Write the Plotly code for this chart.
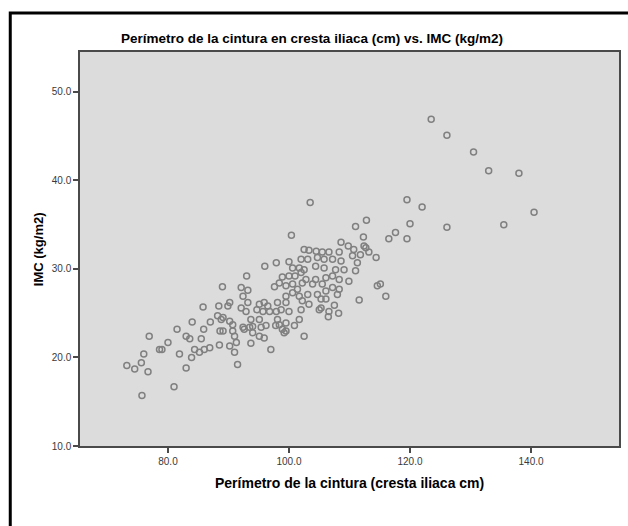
import plotly.graph_objects as go

# Perímetro de la cintura (cm)
waist = [
    123.5, 126.1, 130.5, 133.0, 138.0, 140.5, 135.5, 126.1, 122.0, 119.5, 120.0, 119.5, 117.6, 116.5,
    103.5, 100.4, 112.8, 111.0, 112.3,
    108.6, 112.4, 112.7, 109.8, 110.7, 111.8, 113.2, 114.4,
    102.5, 103.3, 104.5, 105.5, 106.6, 108.3,
    102.0, 103.1, 104.7, 105.8, 107.2, 108.6, 110.5, 111.3,
    100.6, 101.7, 102.5, 104.4, 105.8, 107.7, 109.1, 111.0,
    100.0, 101.0, 102.8, 104.4, 106.1, 107.2, 108.3, 109.9,
    100.6, 102.2, 103.9, 105.5, 107.2, 108.3,
    114.6, 115.1,
    100.6, 101.7, 103.1, 104.7, 106.1, 108.0,
    116.0, 111.6,
    102.2, 103.3, 105.3, 106.1, 107.5,
    102.0, 105.0, 105.3, 106.6, 108.2,
    101.7, 106.5, 100.9,
    96.0, 97.9, 93.0, 89.0, 92.1, 93.2, 92.4, 98.9, 98.4, 97.6, 99.5, 99.5,
    85.8, 88.4, 90.2, 89.9, 92.1, 93.2, 92.9, 95.1, 95.9, 96.5, 94.7, 95.7, 96.8, 98.1, 99.5, 97.9, 98.7,
    84.0, 87.0, 88.2, 88.8, 89.1, 90.2, 90.7, 93.7, 95.1, 94.0, 95.4, 96.2, 98.1, 98.4, 97.8, 99.5, 99.5,
    85.9, 88.6, 89.1, 90.7, 92.4, 92.6, 93.5, 94.0, 95.1, 95.9, 98.9, 99.2,
    83.0, 83.6, 85.5, 91.0, 91.3,
    84.4, 85.2, 86.0, 86.9, 88.5, 90.2, 91.0, 93.7, 97.0,
    83.9, 81.9, 91.5,
    100.0, 102.0, 101.4, 100.0, 102.5,
    81.5, 76.9, 80.0, 78.6, 79.0, 76.0, 75.6, 73.2, 74.5, 76.7, 83.0, 81.0, 75.7,
]

# IMC (kg/m2)
imc = [
    46.9, 45.1, 43.2, 41.1, 40.8, 36.4, 35.0, 34.7, 37.0, 37.8, 35.1, 33.4, 34.1, 33.4,
    37.5, 33.8, 35.5, 34.8, 33.6,
    33.0, 32.6, 32.4, 32.6, 32.2, 31.6, 31.9, 31.3,
    32.2, 32.1, 32.0, 31.9, 31.9, 31.9,
    31.1, 31.1, 31.3, 31.1, 31.1, 30.9, 31.5, 30.7,
    30.1, 30.1, 29.9, 30.3, 30.1, 29.9, 29.9, 29.8,
    29.2, 29.2, 28.8, 28.8, 29.0, 29.2, 28.8, 28.6,
    28.3, 28.4, 28.3, 28.3, 27.9, 27.7,
    28.1, 28.3,
    27.3, 26.9, 27.1, 27.1, 27.5, 27.1,
    26.9, 26.5,
    26.4, 26.0, 26.6, 26.6, 25.9,
    25.4, 25.4, 25.6, 25.2, 25.0,
    24.3, 24.6, 23.6,
    30.3, 30.7, 29.2, 28.0, 27.9, 27.6, 26.9, 29.1, 28.4, 28.0, 28.1, 26.9,
    25.7, 25.8, 26.2, 25.8, 25.6, 26.2, 25.2, 26.0, 26.2, 25.8, 25.4, 25.2, 25.2, 26.2, 26.2, 25.2, 25.4,
    24.0, 24.0, 24.7, 24.3, 24.5, 24.1, 23.7, 24.3, 24.3, 23.5, 23.4, 23.6, 24.3, 23.7, 23.6, 23.9, 23.0,
    23.2, 23.0, 23.0, 23.0, 23.4, 23.2, 23.4, 22.8, 22.4, 22.2, 23.2, 22.8,
    22.4, 22.1, 22.1, 22.4, 21.7,
    20.9, 20.6, 20.9, 21.1, 21.4, 21.3, 20.6, 21.6, 20.9,
    20.0, 20.4, 19.2,
    30.8, 29.6, 27.7, 25.2, 22.4,
    23.2, 22.4, 21.7, 20.9, 20.9, 20.4, 19.4, 19.1, 18.7, 18.4, 18.8, 16.7, 15.7,
]

x_ticks = [80, 100, 120, 140]
y_ticks = [10, 20, 30, 40, 50]
x_range = [65.46, 154.54]
y_range = [10.0, 54.5]

title_text = "Perímetro de la cintura en cresta iliaca (cm) vs. IMC (kg/m2)"
x_title = "Perímetro de la cintura (cresta iliaca cm)"
y_title = "IMC (kg/m2)"

FONT = "Liberation Sans, Arial, sans-serif"

fig = go.Figure()
fig.add_trace(go.Scatter(
    x=waist, y=imc, mode="markers",
    marker=dict(symbol="circle-open", size=6, color="#808080", line=dict(width=1.5, color="#808080")),
    showlegend=False, hoverinfo="x+y",
))

axis_common = dict(
    showgrid=False, zeroline=False, showline=True, mirror=True,
    linecolor="#4a4a4a", linewidth=1.5,
    ticks="outside", ticklen=5, tickwidth=1.5, tickcolor="#4a4a4a",
    tickfont=dict(family=FONT, size=10, color="#3a3a3a"),
    tickformat=".1f",
)

fig.update_layout(
    width=628, height=526,
    margin=dict(l=80, r=7, t=52, b=80),
    paper_bgcolor="white",
    plot_bgcolor="#dcdcdc",
    xaxis=dict(range=x_range, tickvals=x_ticks, **axis_common),
    yaxis=dict(range=y_range, tickvals=y_ticks, **axis_common),
    title=dict(text="<b>" + title_text + "</b>", x=312 / 628, xref="container", xanchor="center",
               y=1 - 38 / 526, yref="container", yanchor="middle",
               font=dict(family=FONT, size=13.5, color="black")),
    shapes=[dict(type="rect", xref="paper", yref="paper",
                 x0=(10 - 80) / 541, x1=(660 - 80) / 541,
                 y0=(446 - 560) / 394, y1=(446 - 13) / 394,
                 line=dict(color="black", width=3), layer="above")],
    annotations=[
        dict(text="<b>" + x_title + "</b>", xref="paper", yref="paper",
             x=0.5, y=(446 - 483) / 394, xanchor="center", yanchor="middle", showarrow=False,
             font=dict(family=FONT, size=14, color="black")),
        dict(text="<b>" + y_title + "</b>", xref="paper", yref="paper",
             x=(38 - 80) / 541, y=0.5, xanchor="center", yanchor="middle", showarrow=False, textangle=-90,
             font=dict(family=FONT, size=13, color="black")),
    ],
)

fig.write_html("out.html")
